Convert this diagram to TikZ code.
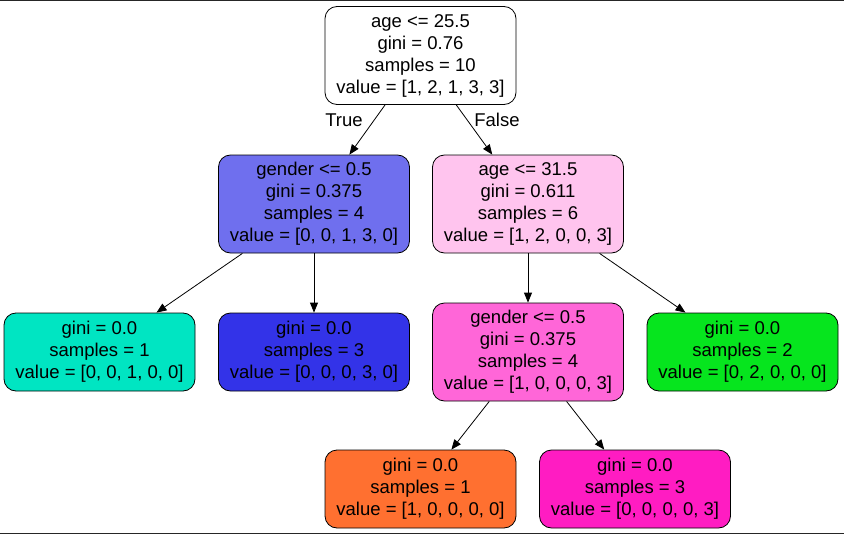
\documentclass[tikz,border=0pt]{standalone}
\usepackage{fontspec}
\setmainfont{Liberation Sans}
\usetikzlibrary{arrows.meta}

\definecolor{cRootL}{HTML}{6F6FEE}
\definecolor{cRootR}{HTML}{FFC4EE}
\definecolor{cTeal}{HTML}{00E5C2}
\definecolor{cBlue}{HTML}{3333E8}
\definecolor{cPink}{HTML}{FF66D8}
\definecolor{cGreen}{HTML}{06E51E}
\definecolor{cOrange}{HTML}{FF7030}
\definecolor{cMagenta}{HTML}{FF1CC2}

\begin{document}
\begin{tikzpicture}[x = 1pt, y = -1pt,
		treenode/.style = {draw, rounded corners = 12pt, align = center, inner sep = 0pt,
			minimum width = 191pt, minimum height = 98pt, line width = 0.8pt,
			font = \fontsize{18.5}{22}\selectfont},
		leafnode/.style = {treenode, minimum height = 78pt},
		edge/.style = {line width = 0.8pt, -{Triangle[length = 10pt, width = 8pt]}}]
	\useasboundingbox (0, 0) rectangle (844, 535);
	\draw[line width = 1.5pt, black!85] (0, 0.5) -- (844, 0.5);
	\draw[line width = 1.5pt, black!85] (0, 533.5) -- (844, 533.5);

	% Nodes
	\node[treenode, fill = white] (n0) at (420.5, 55.5) {age <= 25.5\\gini = 0.76\\samples = 10\\value = [1, 2, 1, 3, 3]};
	\node[treenode, fill = cRootL] (n1) at (314, 204) {gender <= 0.5\\gini = 0.375\\samples = 4\\value = [0, 0, 1, 3, 0]};
	\node[treenode, fill = cRootR] (n4) at (528, 204) {age <= 31.5\\gini = 0.611\\samples = 6\\value = [1, 2, 0, 0, 3]};
	\node[leafnode, fill = cTeal] (n2) at (99.5, 352) {gini = 0.0\\samples = 1\\value = [0, 0, 1, 0, 0]};
	\node[leafnode, fill = cBlue] (n3) at (314, 352) {gini = 0.0\\samples = 3\\value = [0, 0, 0, 3, 0]};
	\node[treenode, fill = cPink] (n5) at (528, 352) {gender <= 0.5\\gini = 0.375\\samples = 4\\value = [1, 0, 0, 0, 3]};
	\node[leafnode, fill = cGreen] (n8) at (742.5, 352) {gini = 0.0\\samples = 2\\value = [0, 2, 0, 0, 0]};
	\node[leafnode, fill = cOrange] (n6) at (420.5, 489) {gini = 0.0\\samples = 1\\value = [1, 0, 0, 0, 0]};
	\node[leafnode, fill = cMagenta] (n7) at (635, 489) {gini = 0.0\\samples = 3\\value = [0, 0, 0, 0, 3]};

	% Edge labels
	\node[font = \fontsize{18.5}{22}\selectfont] (ltrue) at (344, 120) {True};
	\node[font = \fontsize{18.5}{22}\selectfont] (lfalse) at (497, 120) {False};

	% Edges
	\draw[edge] (n0) to (n1);
	\draw[edge] (n0) to (n4);
	\draw[edge] (n1) to (n2);
	\draw[edge] (n1) to (n3);
	\draw[edge] (n4) to (n5);
	\draw[edge] (n4) to (n8);
	\draw[edge] (n5) to (n6);
	\draw[edge] (n5) to (n7);
\end{tikzpicture}
\end{document}
